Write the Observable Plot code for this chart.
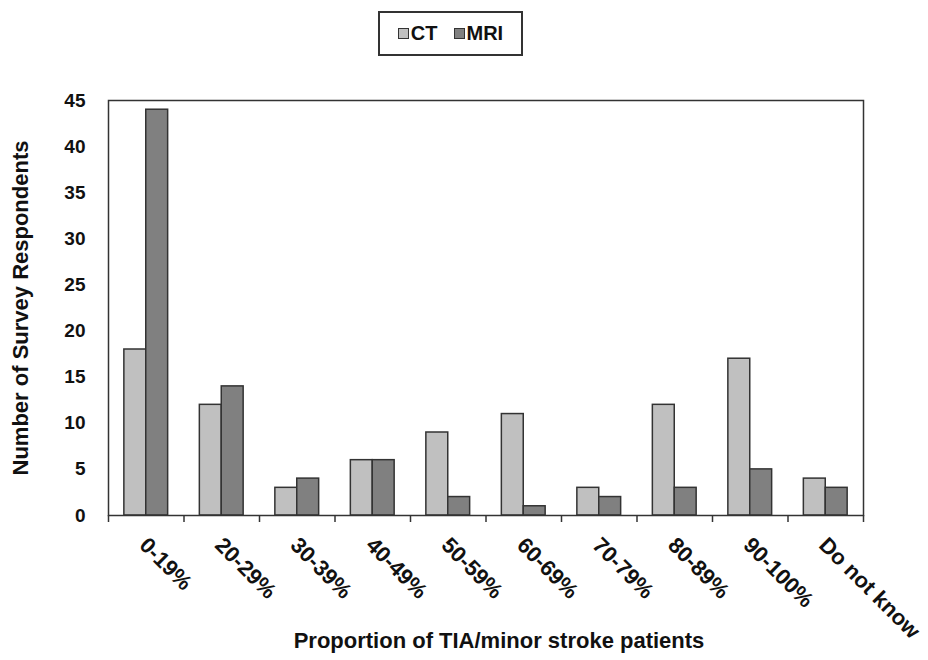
<!DOCTYPE html>
<html>
<head>
<meta charset="utf-8">
<script src="https://cdn.jsdelivr.net/npm/d3@7"></script>
<script src="https://cdn.jsdelivr.net/npm/@observablehq/plot@0.6"></script>
<style>
  html, body { margin: 0; padding: 0; background: #fff; }
  #wrap { position: relative; width: 928px; height: 660px; font-family: "Liberation Sans", Arial, sans-serif; }
  #legend { position: absolute; left: 378px; top: 11px; width: 141px; height: 41px; border: 2px solid #333;
            display: flex; align-items: center; justify-content: center; gap: 16px; font-weight: bold; font-size: 20px; color: #111; background: #fff; }
  #legend .item { display: flex; align-items: center; gap: 2px; }
  #legend .sw { width: 9px; height: 9px; border: 1.5px solid #333; display: inline-block; }
</style>
</head>
<body>
<div id="wrap">
  <div id="legend"></div>
  <div id="chart"></div>
</div>
<script>
const categories = ["0-19%", "20-29%", "30-39%", "40-49%", "50-59%", "60-69%", "70-79%", "80-89%", "90-100%", "Do not know"];
const series = ["CT", "MRI"];
const ctValues = [18, 12, 3, 6, 9, 11, 3, 12, 17, 4];
const mriValues = [44, 14, 4, 6, 2, 1, 2, 3, 5, 3];
const yTicks = [0, 5, 10, 15, 20, 25, 30, 35, 40, 45];
const seriesColors = ["#c0c0c0", "#808080"];
const yTitle = "Number of Survey Respondents";
const xTitle = "Proportion of TIA/minor stroke patients";

const data = categories.flatMap((c, i) => [
  {category: c, index: i, series: "CT", value: ctValues[i]},
  {category: c, index: i, series: "MRI", value: mriValues[i]}
]);

const barW = 0.29;
const font = "'Liberation Sans', Arial, sans-serif";

const chart = Plot.plot({
  width: 928,
  height: 660,
  marginLeft: 108,
  marginRight: 65,
  marginTop: 100,
  marginBottom: 145,
  style: {fontFamily: font, background: "#fff"},
  x: {domain: [0, categories.length]},
  y: {domain: [0, 45]},
  color: {domain: series, range: seriesColors},
  marks: [
    Plot.rectY(data, {
      x1: d => d.index + 0.5 + (d.series === "CT" ? -barW : 0),
      x2: d => d.index + 0.5 + (d.series === "CT" ? 0 : barW),
      y1: 0,
      y2: "value",
      fill: "series",
      stroke: "#333",
      strokeWidth: 1.5
    }),
    Plot.frame({stroke: "#333", strokeWidth: 1.5}),
    Plot.axisY({
      ticks: yTicks, tickSize: 0, tickPadding: 23, fontSize: 19, fontWeight: "bold", fill: "#111", label: null
    }),
    Plot.axisY({
      ticks: [], tickSize: 0, fontSize: 22, fontWeight: "bold", fill: "#111",
      label: yTitle, labelAnchor: "center", labelArrow: "none", labelOffset: 96
    }),
    Plot.axisX({
      ticks: d3.range(0, categories.length + 1), tickFormat: () => "", tickSize: 7, stroke: "#333", strokeWidth: 1.5,
      label: null
    }),
    Plot.text(categories, {
      x: (d, i) => i + 0.5,
      y: 0,
      text: d => d,
      rotate: 45,
      textAnchor: "start",
      lineAnchor: "top",
      dx: 3,
      dy: 20,
      fontSize: 22,
      fontWeight: "bold",
      fill: "#111"
    }),
    Plot.text([xTitle], {
      frameAnchor: "bottom",
      text: d => d,
      dx: 13,
      dy: 132,
      fontSize: 22,
      fontWeight: "bold",
      fill: "#111"
    })
  ]
});
document.getElementById("chart").appendChild(chart);

const legend = document.getElementById("legend");
series.forEach((s, i) => {
  const item = document.createElement("span");
  item.className = "item";
  const sw = document.createElement("span");
  sw.className = "sw";
  sw.style.background = seriesColors[i];
  const t = document.createElement("span");
  t.textContent = s;
  item.appendChild(sw);
  item.appendChild(t);
  legend.appendChild(item);
});
</script>
</body>
</html>
